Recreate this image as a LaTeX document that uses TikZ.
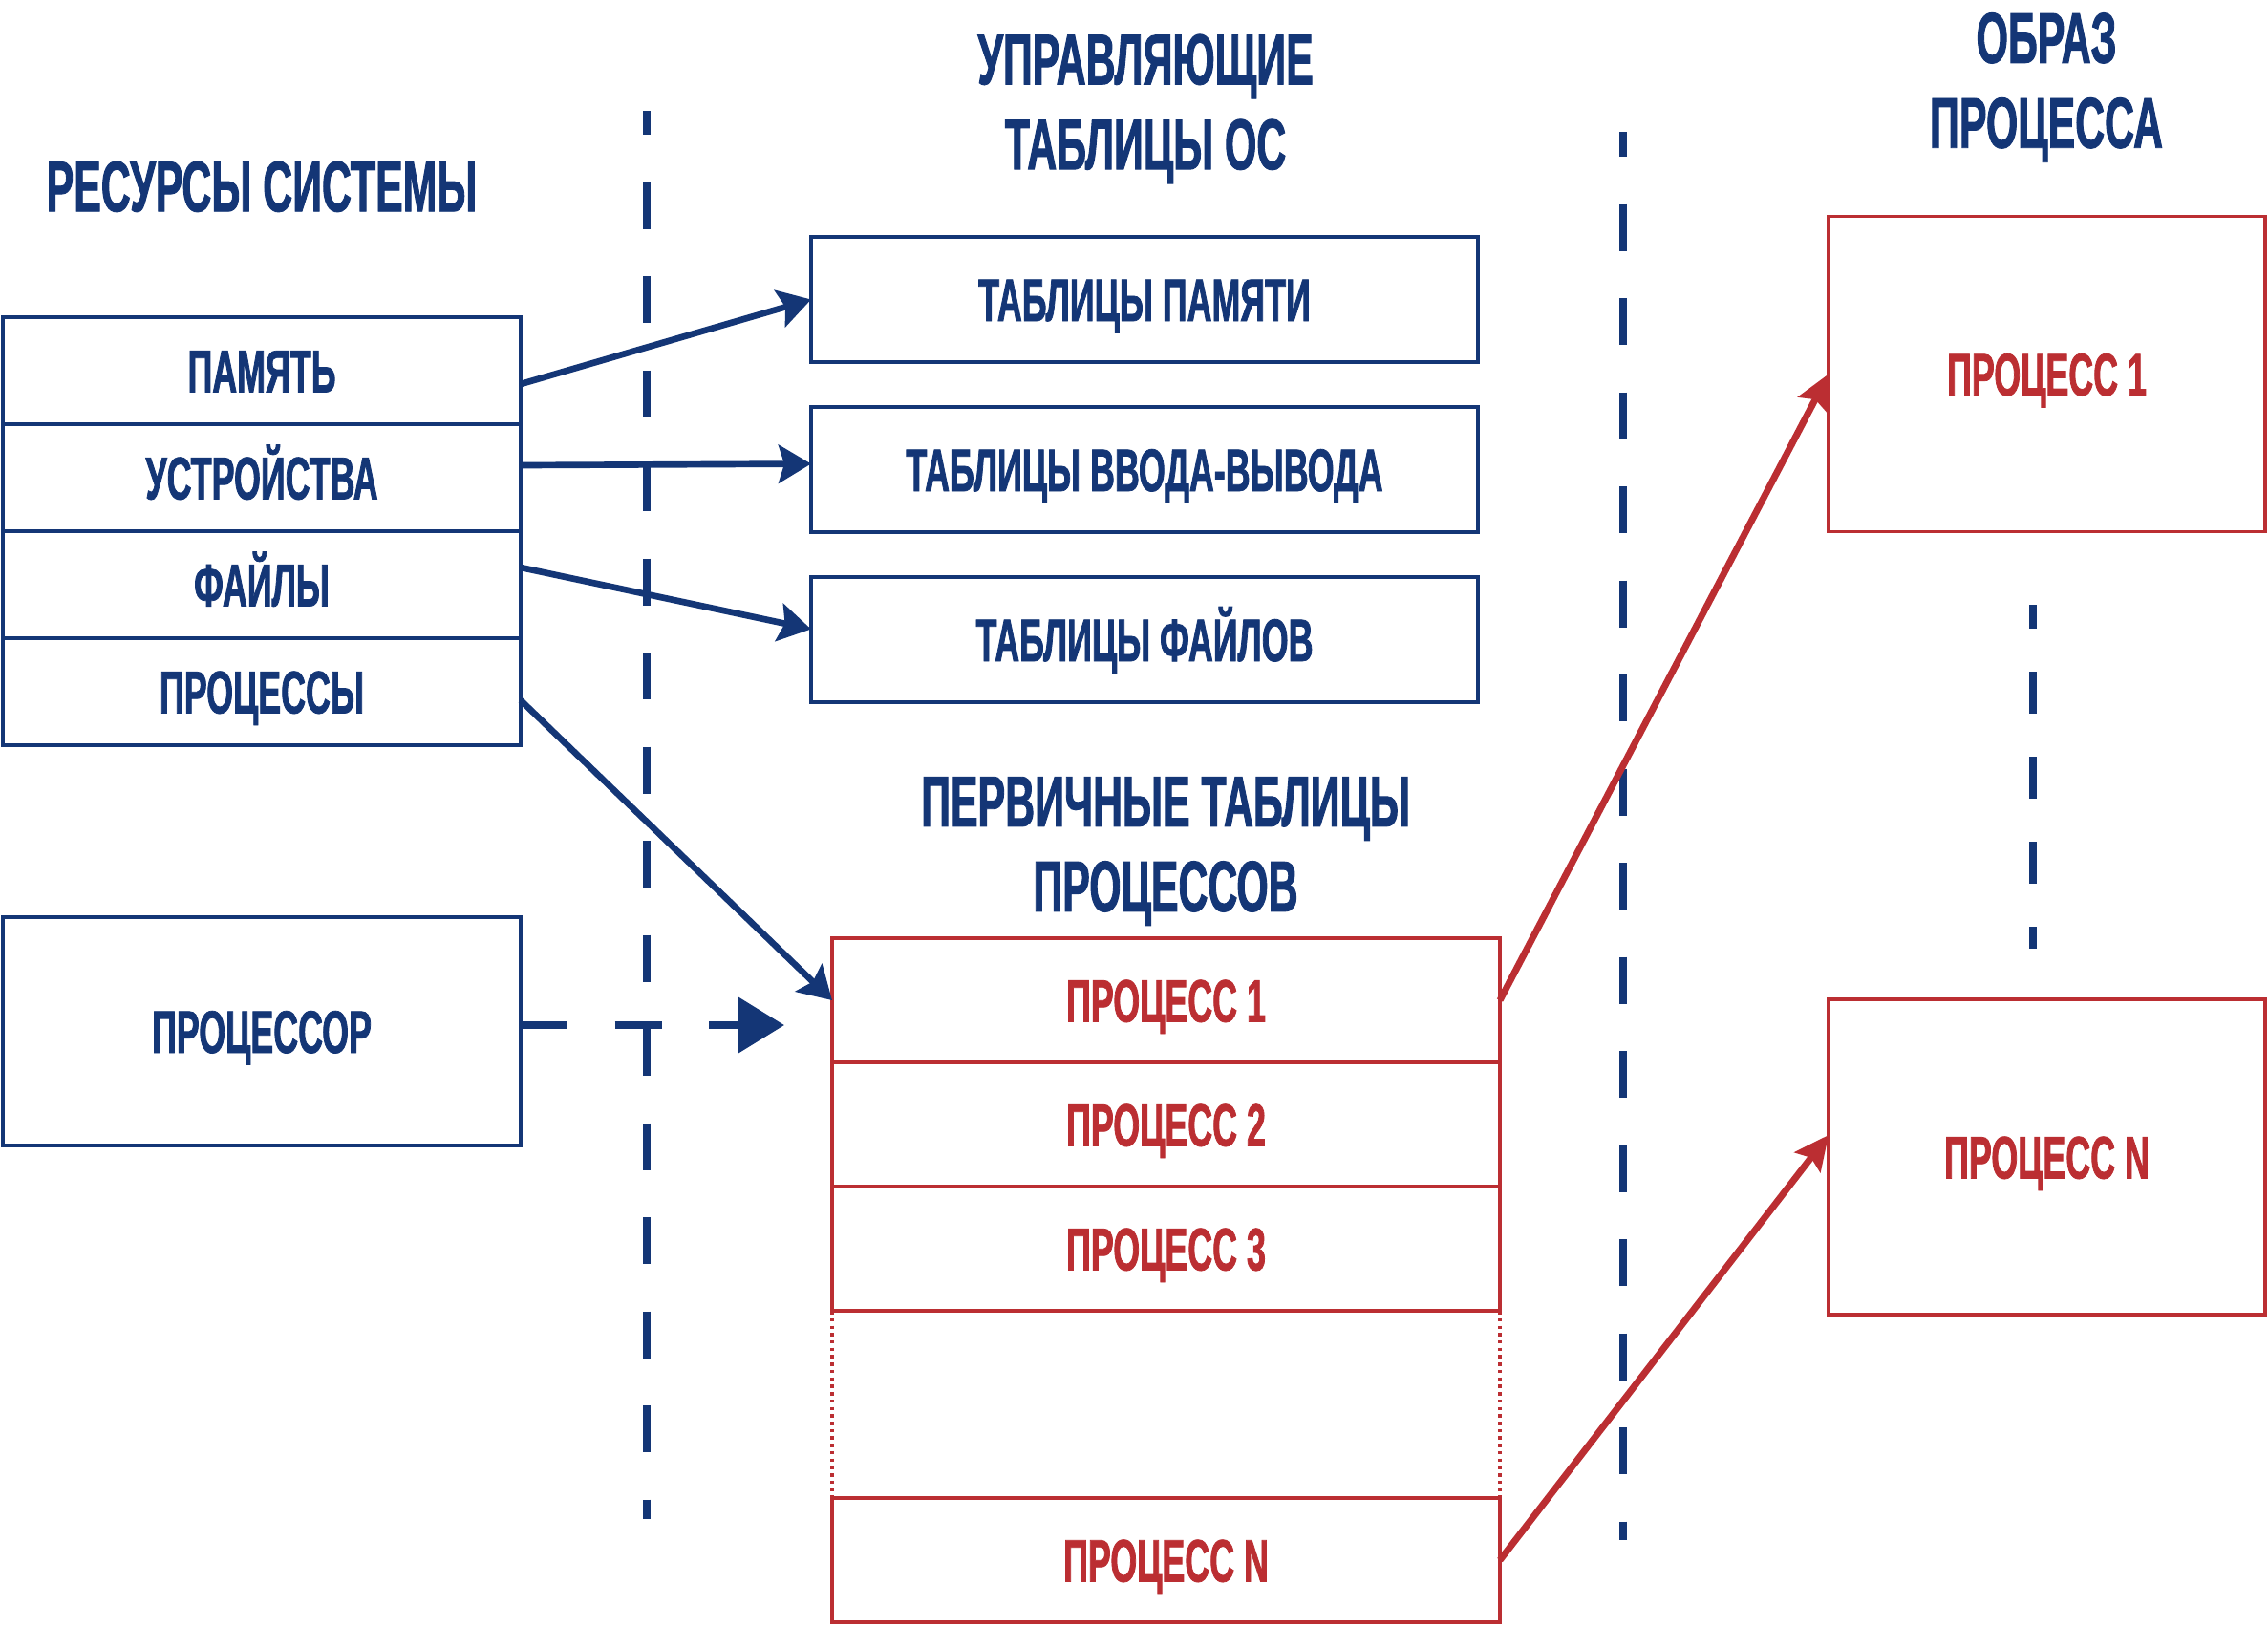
\documentclass[tikz,border=0pt]{standalone}
\usepackage{fontspec}
\setmainfont[FakeStretch=0.57, BoldFeatures={FakeBold=1.2}]{Liberation Sans}
\usetikzlibrary{positioning,arrows.meta}
\definecolor{osblue}{HTML}{143676}
\definecolor{osred}{HTML}{BB2E32}

\begin{document}
\begin{tikzpicture}[
    node distance=0pt,
    every node/.style={align=center, inner sep=0pt, outer sep=0pt},
    head/.style={text=osblue, font=\fontsize{21.4pt}{25.3pt}\selectfont\bfseries, text depth=0pt},
    res/.style={draw=osblue, line width=0.95pt, text=osblue, minimum width=5.42cm, minimum height=1.12cm, font=\fontsize{17.9pt}{20pt}\selectfont\bfseries, text height=12.8pt, text depth=0pt},
    tab/.style={res, minimum width=6.98cm, minimum height=1.31cm},
    proc/.style={res, draw=osred, text=osred, line width=1.1pt, minimum width=6.99cm, minimum height=1.30cm},
    img/.style={proc, minimum width=4.57cm, minimum height=3.30cm},
    arr/.style={-{Stealth[length=3.4mm, width=4mm, inset=0.6mm]}, osblue, line width=1.9pt},
    rarr/.style={-{Stealth[length=3.6mm, width=3.4mm, inset=0.6mm]}, osred, line width=2pt},
    sep/.style={osblue, line width=2.2pt, dash pattern=on 0.49cm off 0.495cm}
]
    \useasboundingbox (0,0) rectangle (23.74,-17.02);

    % Draw headings
    \node[head] (hres) at (2.74,-1.95) {РЕСУРСЫ СИСТЕМЫ};
    \node[head] (htab) at (11.99,-1.065) {УПРАВЛЯЮЩИЕ\\ТАБЛИЦЫ ОС};
    \node[head] (himg) at (21.42,-0.84) {ОБРАЗ\\ПРОЦЕССА};
    \node[head] (hprim) at (12.20,-8.835) {ПЕРВИЧНЫЕ ТАБЛИЦЫ\\ПРОЦЕССОВ};

    % Draw nodes
    \node[res] (mem) at (2.74,-3.88) {ПАМЯТЬ};
    \node[res, below=of mem] (dev) {УСТРОЙСТВА};
    \node[res, below=of dev] (fil) {ФАЙЛЫ};
    \node[res, below=of fil] (prc) {ПРОЦЕССЫ};
    \node[res, minimum height=2.39cm] (cpu) at (2.74,-10.795) {ПРОЦЕССОР};

    \node[tab] (tmem) at (11.98,-3.135) {ТАБЛИЦЫ ПАМЯТИ};
    \node[tab, below=0.47cm of tmem] (tio) {ТАБЛИЦЫ ВВОДА-ВЫВОДА};
    \node[tab, below=0.47cm of tio] (tfil) {ТАБЛИЦЫ ФАЙЛОВ};

    \node[proc] (p1) at (12.205,-10.47) {ПРОЦЕСС 1};
    \node[proc, below=of p1] (p2) {ПРОЦЕСС 2};
    \node[proc, below=of p2] (p3) {ПРОЦЕСС 3};
    \node[proc, below=1.96cm of p3] (pn) {ПРОЦЕСС N};
    \draw[osred, line width=0.9pt, dash pattern=on 1pt off 1.2pt] (p3.south west) -- (pn.north west) (p3.south east) -- (pn.north east);

    \node[img] (img1) at (21.425,-3.915) {ПРОЦЕСС 1};
    \node[img] (imgn) at (21.425,-12.11) {ПРОЦЕСС N};

    % Draw separators
    \draw[sep, dash phase=0.24cm] (6.77,-1.16) -- (6.77,-15.90);
    \draw[sep, dash phase=0.23cm] (16.99,-1.38) -- (16.99,-16.12);
    \draw[sep, dash pattern=on 0.44cm off 0.45cm, dash phase=0.19cm] (21.28,-6.33) -- (21.28,-9.93);

    % Draw connections
    \draw[arr] ([yshift=-1.4mm]mem.east) -- (tmem.west);
    \draw[arr] ([yshift=1.3mm]dev.east) -- ([yshift=0.6mm]tio.west);
    \draw[arr] ([yshift=1.8mm]fil.east) -- ([yshift=1.1mm]tfil.west);
    \draw[arr] ([yshift=-0.9mm]prc.east) -- (p1.west);
    \coordinate (cpuin) at (8.21,-10.73);
    \draw[sep, -{Triangle[length=4.9mm, width=5.8mm]}] (cpu.east |- cpuin) -- (cpuin);
    \draw[rarr] (p1.east) -- (img1.west);
    \draw[rarr] (pn.east) -- ([yshift=2.3mm]imgn.west);

\end{tikzpicture}
\end{document}
